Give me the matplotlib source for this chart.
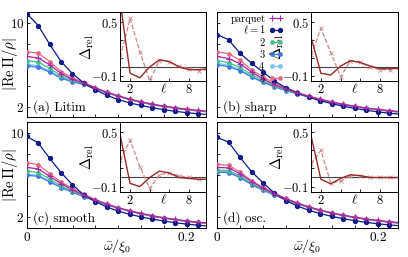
import matplotlib.pyplot as plt

# Schrift wie im LaTeX-Original
plt.rcParams['font.family'] = 'serif'
plt.rcParams['font.serif'] = ['cmr10']
plt.rcParams['mathtext.fontset'] = 'cm'
plt.rcParams['axes.unicode_minus'] = False
plt.rcParams['axes.linewidth'] = 0.7

# Frequenzgitter (omega / xi_0)
omega = [0.0, 0.0143, 0.0286, 0.0429, 0.0571, 0.0714, 0.0857, 0.1, 0.1143,
         0.1286, 0.1429, 0.1571, 0.1714, 0.1857, 0.2, 0.2143, 0.2286]
ell = [1, 2, 3, 4, 5, 6, 7, 8, 9, 10]

# (a) Litim: Reihen fuer l = 1..5 und parquet
litim_ell = [
    [10.9, 9.75, 7.95, 6.3, 5.15, 4.25, 3.6, 3.08, 2.67, 2.35, 2.1, 1.88, 1.7, 1.54, 1.41, 1.3, 1.21],
    [6.4, 6.25, 5.65, 4.95, 4.5, 4.2, 3.75, 3.35, 3.0, 2.68, 2.42, 2.2, 2.01, 1.85, 1.71, 1.59, 1.49],
    [5.9, 5.75, 5.3, 4.72, 4.35, 4.12, 3.7, 3.32, 2.98, 2.66, 2.4, 2.18, 1.99, 1.83, 1.69, 1.57, 1.47],
    [6.05, 5.9, 5.4, 4.8, 4.4, 4.15, 3.72, 3.33, 2.99, 2.67, 2.41, 2.19, 2.0, 1.84, 1.7, 1.58, 1.48],
    [7.25, 7.1, 6.3, 5.35, 4.75, 4.3, 3.8, 3.38, 3.02, 2.7, 2.44, 2.21, 2.02, 1.86, 1.72, 1.6, 1.5],
]
litim_parquet = [6.8, 6.65, 6.0, 5.15, 4.6, 4.25, 3.78, 3.37, 3.02, 2.71, 2.45, 2.23, 2.04, 1.88, 1.74, 1.62, 1.52]
litim_delta = [0.72, -0.07, -0.12, 0.0, 0.08, 0.06, 0.0, -0.03, -0.03, -0.02]
litim_delta_pq = [0.11, 0.54, 0.17, -0.15, 0.07, 0.06, 0.01, -0.02, -0.04, -0.03]

# (b) sharp
sharp_ell = [
    [8.9, 8.4, 7.1, 6.15, 5.3, 4.45, 3.8, 3.3, 2.9, 2.55, 2.27, 2.03, 1.82, 1.64, 1.49, 1.36, 1.25],
    [6.4, 6.2, 5.75, 5.05, 4.5, 4.0, 3.6, 3.25, 2.94, 2.66, 2.41, 2.19, 2.0, 1.84, 1.7, 1.58, 1.48],
    [6.0, 5.82, 5.45, 4.82, 4.33, 3.89, 3.53, 3.2, 2.9, 2.63, 2.39, 2.17, 1.98, 1.82, 1.68, 1.56, 1.46],
    [6.15, 5.95, 5.55, 4.9, 4.4, 3.93, 3.56, 3.22, 2.92, 2.64, 2.4, 2.18, 1.99, 1.83, 1.69, 1.57, 1.47],
    [7.25, 7.05, 6.45, 5.5, 4.85, 4.25, 3.75, 3.35, 3.0, 2.7, 2.44, 2.21, 2.01, 1.84, 1.69, 1.57, 1.46],
]
sharp_parquet = [6.8, 6.6, 6.1, 5.3, 4.65, 4.1, 3.67, 3.3, 2.97, 2.68, 2.43, 2.21, 2.02, 1.86, 1.72, 1.6, 1.5]
sharp_delta = [0.33, -0.07, -0.09, 0.01, 0.07, 0.05, 0.01, -0.02, -0.02, -0.01]
sharp_delta_pq = [0.13, 0.43, 0.16, -0.11, 0.07, 0.05, 0.0, -0.03, -0.03, -0.02]

# (c) smooth
smooth_ell = [
    [9.7, 9.05, 7.6, 6.25, 5.1, 4.12, 3.5, 3.0, 2.6, 2.3, 2.05, 1.84, 1.66, 1.5, 1.37, 1.26, 1.17],
    [6.4, 6.25, 5.65, 5.0, 4.5, 4.05, 3.62, 3.23, 2.9, 2.61, 2.36, 2.14, 1.95, 1.79, 1.65, 1.53, 1.43],
    [6.0, 5.9, 5.38, 4.83, 4.38, 3.97, 3.57, 3.2, 2.87, 2.59, 2.34, 2.12, 1.93, 1.77, 1.63, 1.51, 1.41],
    [6.1, 6.0, 5.45, 4.88, 4.42, 4.0, 3.59, 3.21, 2.88, 2.6, 2.35, 2.13, 1.94, 1.78, 1.64, 1.52, 1.42],
    [7.2, 7.0, 6.15, 5.35, 4.75, 4.2, 3.7, 3.28, 2.92, 2.62, 2.36, 2.14, 1.95, 1.78, 1.64, 1.52, 1.42],
]
smooth_parquet = [6.75, 6.6, 5.9, 5.2, 4.62, 4.12, 3.66, 3.26, 2.92, 2.63, 2.38, 2.16, 1.97, 1.81, 1.67, 1.55, 1.45]
smooth_delta = [0.46, -0.065, -0.1, 0.0, 0.07, 0.05, 0.0, -0.01, -0.02, -0.02]
smooth_delta_pq = [0.19, 0.41, 0.12, -0.12, 0.03, 0.05, 0.02, 0.0, -0.02, -0.02]

# (d) osc.
osc_ell = [
    [9.6, 9.15, 7.7, 6.35, 5.3, 4.3, 3.6, 3.08, 2.68, 2.36, 2.1, 1.88, 1.69, 1.53, 1.4, 1.29, 1.2],
    [6.5, 6.45, 5.95, 5.25, 4.68, 4.18, 3.72, 3.32, 2.97, 2.67, 2.41, 2.19, 2.0, 1.83, 1.69, 1.57, 1.47],
    [6.3, 6.25, 5.78, 5.12, 4.58, 4.11, 3.68, 3.29, 2.94, 2.65, 2.39, 2.17, 1.98, 1.81, 1.67, 1.55, 1.45],
    [6.4, 6.35, 5.85, 5.18, 4.62, 4.14, 3.7, 3.3, 2.95, 2.66, 2.4, 2.18, 1.99, 1.82, 1.68, 1.56, 1.46],
    [7.05, 6.95, 6.3, 5.5, 4.85, 4.3, 3.8, 3.37, 3.0, 2.69, 2.43, 2.2, 2.0, 1.83, 1.68, 1.56, 1.46],
]
osc_parquet = [6.75, 6.7, 6.15, 5.4, 4.78, 4.25, 3.77, 3.35, 2.99, 2.69, 2.43, 2.21, 2.02, 1.85, 1.71, 1.59, 1.49]
osc_delta = [0.46, -0.02, -0.07, -0.01, 0.03, 0.02, 0.0, 0.0, 0.0, 0.0]
osc_delta_pq = [0.15, 0.30, -0.06, -0.04, 0.02, 0.02, 0.0, 0.0, 0.0, -0.01]

panel_names = ['(a) Litim', '(b) sharp', '(c) smooth', '(d) osc.']
ell_colors = ['#0d1a8a', '#45c08f', '#3b78e0', '#78c6f0', '#e56a88']
parquet_color = '#a628a6'

fig = plt.figure(figsize=(4.08, 2.57), dpi=100)
boxes = [[0.066, 0.545, 0.440, 0.408],
         [0.532, 0.545, 0.443, 0.408],
         [0.066, 0.113, 0.440, 0.412],
         [0.532, 0.113, 0.443, 0.412]]

all_ell = [litim_ell, sharp_ell, smooth_ell, osc_ell]
all_pq = [litim_parquet, sharp_parquet, smooth_parquet, osc_parquet]
all_delta = [litim_delta, sharp_delta, smooth_delta, osc_delta]
all_delta_pq = [litim_delta_pq, sharp_delta_pq, smooth_delta_pq, osc_delta_pq]

for i in range(4):
    ax = fig.add_axes(boxes[i])
    # Reihenfolge: 4, 3, 2, 5, dann l = 1 und parquet obenauf
    for k in [3, 2, 1, 4, 0]:
        ms = 2.8 if k == 0 else 2.4
        ax.plot(omega, all_ell[i][k], '-o', color=ell_colors[k], lw=0.9, ms=ms,
                label=r'$\ell=1$' if k == 0 else '$%d$' % (k + 1), zorder=3)
    ax.plot(omega, all_pq[i], '-+', color=parquet_color, lw=0.9, ms=5, mew=0.8,
            label='parquet', zorder=4)

    ax.set_xlim(0, 0.225)
    ax.set_ylim(1.0, 11.05)
    ax.set_xticks([j * 0.2 / 7 for j in range(8)])
    ax.set_yticks([2, 4, 6, 8, 10])
    ax.tick_params(direction='in', length=2.5, width=0.6, labelsize=9.5, pad=2)
    if i % 2 == 0:
        ax.set_yticklabels(['$2$', '', '', '', '$10$'])
        ax.set_ylabel(r'$|\mathrm{Re}\,\Pi/\rho|$', fontsize=10.5)
        ax.yaxis.set_label_coords(-0.04, 0.5)
    else:
        ax.set_yticklabels([])
    if i >= 2:
        ax.set_xticklabels(['$0$', '', '', '', '', '', '', '$0.2$'])
        ax.set_xlabel(r'$\bar{\omega}/\xi_0$', fontsize=10)
        ax.xaxis.set_label_coords(0.5, -0.085)
    else:
        ax.set_xticklabels([])
    ax.text(0.035, 0.095, panel_names[i], transform=ax.transAxes,
            fontsize=9.5, va='center', ha='left')

    if i == 1:
        h, l = ax.get_legend_handles_labels()
        order = [5, 4, 2, 1, 0, 3]
        ax.legend([h[j] for j in order], [l[j] for j in order],
                  loc='upper right', bbox_to_anchor=(0.40, 1.04), frameon=False,
                  markerfirst=False, numpoints=2, handlelength=1.4,
                  handletextpad=0.3, labelspacing=0.0, fontsize=7.5,
                  borderaxespad=0.2)

    # Einsatz mit Delta_rel
    ins = ax.inset_axes([0.52, 0.343, 0.48, 0.657])
    ins.axhline(0, color='#444444', lw=0.8, zorder=1)
    ins.plot(ell, all_delta_pq[i], '--x', color='#c98a8a', lw=0.9, ms=2.5, mew=0.6)
    ins.plot(ell, all_delta[i], '-', color='#9a2a2a', lw=1.0)
    ins.set_xlim(1, 9.8)
    ins.set_ylim(-0.156, 0.611)
    ins.set_xticks([2, 4, 6, 8])
    ins.set_xticklabels(['$2$', '', '', '$8$'])
    ins.set_yticks([-0.1, 0.1, 0.3, 0.5])
    ins.set_yticklabels(['$-0.1$', '', '', '$0.5$'])
    ins.tick_params(direction='in', length=2, width=0.6, labelsize=9, pad=1.5)
    ins.set_xlabel(r'$\ell$', fontsize=9.5, labelpad=-10)
    ins.set_ylabel(r'$\Delta_{\mathrm{rel}}$', fontsize=10.5, labelpad=-3)

plt.savefig('out.png', dpi=100)
